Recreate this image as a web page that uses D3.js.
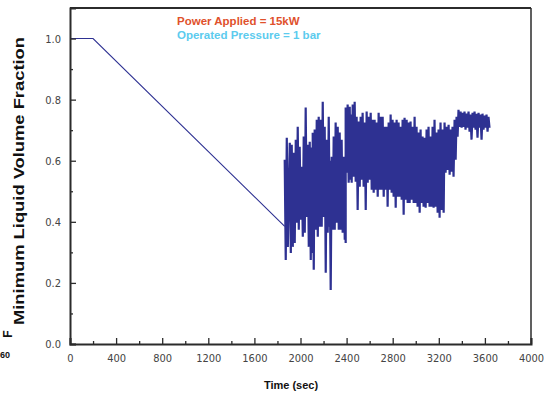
<!DOCTYPE html>
<html>
<head>
<meta charset="utf-8">
<script src="https://cdn.jsdelivr.net/npm/d3@7"></script>
<style>
  body { margin: 0; background: #fff; }
  svg { display: block; font-family: "DejaVu Sans", Verdana, sans-serif; }
</style>
</head>
<body>
<div id="okvir"></div>
<script>
// ramp: flat start then linear drop
const rampTime = [0, 200, 1863];
const rampValue = [1.0, 1.0, 0.385];

const burstTime = [1863, 1881, 1907, 1924, 1941, 1959, 1976, 1993, 2011, 2028, 2045, 2063, 2080, 2097, 2106, 2123, 2141, 2158, 2175, 2193, 2210, 2227, 2245, 2253, 2271, 2288, 2305, 2323, 2340, 2357, 2375, 2383, 2392, 2409, 2427, 2435, 2453, 2470, 2487, 2505, 2522, 2539, 2557, 2574, 2591, 2609, 2626, 2643, 2661, 2678, 2695, 2713, 2730, 2747, 2765, 2782, 2799, 2817, 2834, 2851, 2869, 2886, 2903, 2921, 2938, 2955, 2973, 2990, 3007, 3025, 3042, 3059, 3077, 3094, 3111, 3129, 3146, 3163, 3181, 3198, 3215, 3233, 3250, 3267, 3285, 3302, 3319, 3337, 3354, 3371, 3389, 3406, 3423, 3441, 3458, 3475, 3493, 3510, 3527, 3545, 3562, 3579, 3597, 3614, 3631];
const burstHigh = [0.603, 0.675, 0.659, 0.652, 0.626, 0.669, 0.711, 0.646, 0.580, 0.679, 0.774, 0.652, 0.662, 0.643, 0.692, 0.702, 0.734, 0.744, 0.734, 0.793, 0.711, 0.669, 0.744, 0.600, 0.613, 0.679, 0.725, 0.711, 0.692, 0.669, 0.613, 0.561, 0.774, 0.784, 0.777, 0.751, 0.784, 0.793, 0.744, 0.728, 0.744, 0.757, 0.725, 0.761, 0.744, 0.757, 0.734, 0.734, 0.725, 0.757, 0.744, 0.744, 0.711, 0.711, 0.725, 0.751, 0.734, 0.725, 0.734, 0.725, 0.711, 0.734, 0.741, 0.734, 0.725, 0.728, 0.711, 0.744, 0.711, 0.692, 0.702, 0.679, 0.675, 0.702, 0.711, 0.679, 0.711, 0.734, 0.692, 0.702, 0.725, 0.702, 0.725, 0.711, 0.718, 0.702, 0.711, 0.734, 0.744, 0.767, 0.761, 0.757, 0.761, 0.754, 0.761, 0.751, 0.757, 0.761, 0.754, 0.757, 0.751, 0.754, 0.748, 0.751, 0.744];
const burstLow = [0.275, 0.318, 0.298, 0.318, 0.331, 0.397, 0.374, 0.407, 0.351, 0.364, 0.416, 0.318, 0.275, 0.298, 0.243, 0.374, 0.351, 0.384, 0.384, 0.416, 0.233, 0.364, 0.384, 0.177, 0.374, 0.374, 0.397, 0.374, 0.374, 0.364, 0.341, 0.331, 0.561, 0.528, 0.538, 0.528, 0.548, 0.531, 0.439, 0.515, 0.538, 0.515, 0.439, 0.528, 0.538, 0.505, 0.495, 0.505, 0.482, 0.505, 0.505, 0.482, 0.505, 0.449, 0.505, 0.495, 0.482, 0.446, 0.482, 0.482, 0.472, 0.423, 0.472, 0.462, 0.462, 0.472, 0.462, 0.462, 0.449, 0.430, 0.462, 0.449, 0.446, 0.462, 0.449, 0.449, 0.446, 0.449, 0.430, 0.413, 0.439, 0.430, 0.561, 0.570, 0.554, 0.564, 0.548, 0.603, 0.679, 0.711, 0.708, 0.711, 0.702, 0.708, 0.695, 0.669, 0.708, 0.702, 0.675, 0.708, 0.669, 0.702, 0.708, 0.695, 0.708];

const xTicks = [0, 400, 800, 1200, 1600, 2000, 2400, 2800, 3200, 3600, 4000];
const yTicks = [0.0, 0.2, 0.4, 0.6, 0.8, 1.0];

const sirina = 552, visina = 394;
const margine = { top: 8, right: 21, bottom: 50, left: 70 };
const grSirina = sirina - margine.left - margine.right;
const grVisina = visina - margine.top - margine.bottom;

const okvir = d3.select("#okvir").append("svg")
    .attr("width", sirina)
    .attr("height", visina);

const granice = okvir.append("g")
    .attr("transform", `translate(${margine.left},${margine.top})`);

const xSkala = d3.scaleLinear().domain([0, 4000]).range([0, grSirina]);
const ySkala = d3.scaleLinear().domain([0, 1.1]).range([grVisina, 0]);

const linija = d3.line()
    .x(d => xSkala(d.t))
    .y(d => ySkala(d.v));

// ramp part
const rampa = rampTime.map((t, i) => ({ t: t, v: rampValue[i] }));
granice.append("path")
    .datum(rampa)
    .attr("d", linija)
    .attr("fill", "none")
    .attr("stroke", "#2e3192")
    .attr("stroke-width", 1.1);

// fluctuating part: zigzag hi/lo
const burst = [];
burstTime.forEach((t, i) => {
    burst.push({ t: t, v: burstHigh[i] });
    burst.push({ t: t + 9, v: burstLow[i] });
});
granice.append("path")
    .datum(burst)
    .attr("d", linija)
    .attr("fill", "none")
    .attr("stroke", "#2e3192")
    .attr("stroke-width", 2.2)
    .attr("stroke-linejoin", "miter")
    .attr("stroke-miterlimit", 2);

// frame
const bojaOsi = "#2b2b2b";
granice.append("line")
    .attr("x1", 0).attr("x2", grSirina).attr("y1", 0).attr("y2", 0)
    .attr("stroke", bojaOsi).attr("stroke-width", 2);
granice.append("line")
    .attr("x1", grSirina).attr("x2", grSirina).attr("y1", 0).attr("y2", grVisina)
    .attr("stroke", bojaOsi).attr("stroke-width", 1.5);

// x axis, ticks pointing inward
const xOs = granice.append("g")
    .attr("transform", `translate(0,${grVisina})`);
xOs.call(d3.axisBottom(xSkala).tickValues(d3.range(0, 4001, 200)).tickSize(-6).tickPadding(8)
    .tickFormat(d => xTicks.includes(d) ? d : ""));
xOs.selectAll(".tick line")
    .attr("y2", d => xTicks.includes(d) ? -6 : -3)
    .attr("stroke", bojaOsi).attr("stroke-width", 1.3);
xOs.select(".domain").attr("stroke", bojaOsi).attr("stroke-width", 2);
xOs.selectAll(".tick text")
    .attr("y", 10)
    .attr("fill", "#444")
    .style("font-size", "11px")
    .style("font-family", "'DejaVu Sans Condensed', 'DejaVu Sans', sans-serif");

// y axis
const yOs = granice.append("g");
yOs.call(d3.axisLeft(ySkala).tickValues(d3.range(0, 11).map(d => d / 10)).tickSize(-6).tickPadding(9)
    .tickFormat(d => yTicks.some(y => Math.abs(y - d) < 1e-9) ? d3.format(".1f")(d) : ""));
yOs.selectAll(".tick line")
    .attr("x2", d => yTicks.some(y => Math.abs(y - d) < 1e-9) ? 6 : 3)
    .attr("stroke", bojaOsi).attr("stroke-width", 1.3);
yOs.select(".domain").attr("stroke", bojaOsi).attr("stroke-width", 2);
yOs.selectAll(".tick text")
    .attr("fill", "#444")
    .style("font-size", "11px")
    .style("font-family", "'DejaVu Sans Condensed', 'DejaVu Sans', sans-serif");

// axis labels
okvir.append("text")
    .attr("x", 291).attr("y", 389)
    .attr("text-anchor", "middle")
    .style("font-family", "'Liberation Sans', Arial, sans-serif")
    .style("font-weight", "bold")
    .style("font-size", "11px")
    .attr("fill", "#111")
    .text("Time (sec)");

okvir.append("text")
    .attr("transform", "translate(24,181) rotate(-90)")
    .attr("text-anchor", "middle")
    .attr("textLength", 288)
    .attr("lengthAdjust", "spacingAndGlyphs")
    .style("font-family", "'Liberation Sans', Arial, sans-serif")
    .style("font-weight", "bold")
    .style("font-size", "15px")
    .attr("fill", "#111")
    .text("Minimum Liquid Volume Fraction");

// leftover label fragments at left edge
okvir.append("text")
    .attr("transform", "translate(12,334) rotate(-90)")
    .attr("text-anchor", "middle")
    .style("font-family", "'Liberation Sans', Arial, sans-serif")
    .style("font-weight", "bold")
    .style("font-size", "12px")
    .attr("fill", "#111")
    .text("F");
okvir.append("text")
    .attr("x", 0).attr("y", 358)
    .style("font-family", "'Liberation Sans', Arial, sans-serif")
    .style("font-weight", "bold")
    .style("font-size", "9px")
    .attr("fill", "#111")
    .text("60");

// annotations
okvir.append("text")
    .attr("x", 177).attr("y", 25)
    .style("font-family", "'Liberation Sans', Arial, sans-serif")
    .style("font-weight", "bold")
    .style("font-size", "11.5px")
    .attr("fill", "#e0512c")
    .text("Power Applied = 15kW");
okvir.append("text")
    .attr("x", 177).attr("y", 39)
    .style("font-family", "'Liberation Sans', Arial, sans-serif")
    .style("font-weight", "bold")
    .style("font-size", "11.5px")
    .attr("fill", "#5ccbee")
    .text("Operated Pressure = 1 bar");
</script>
</body>
</html>
